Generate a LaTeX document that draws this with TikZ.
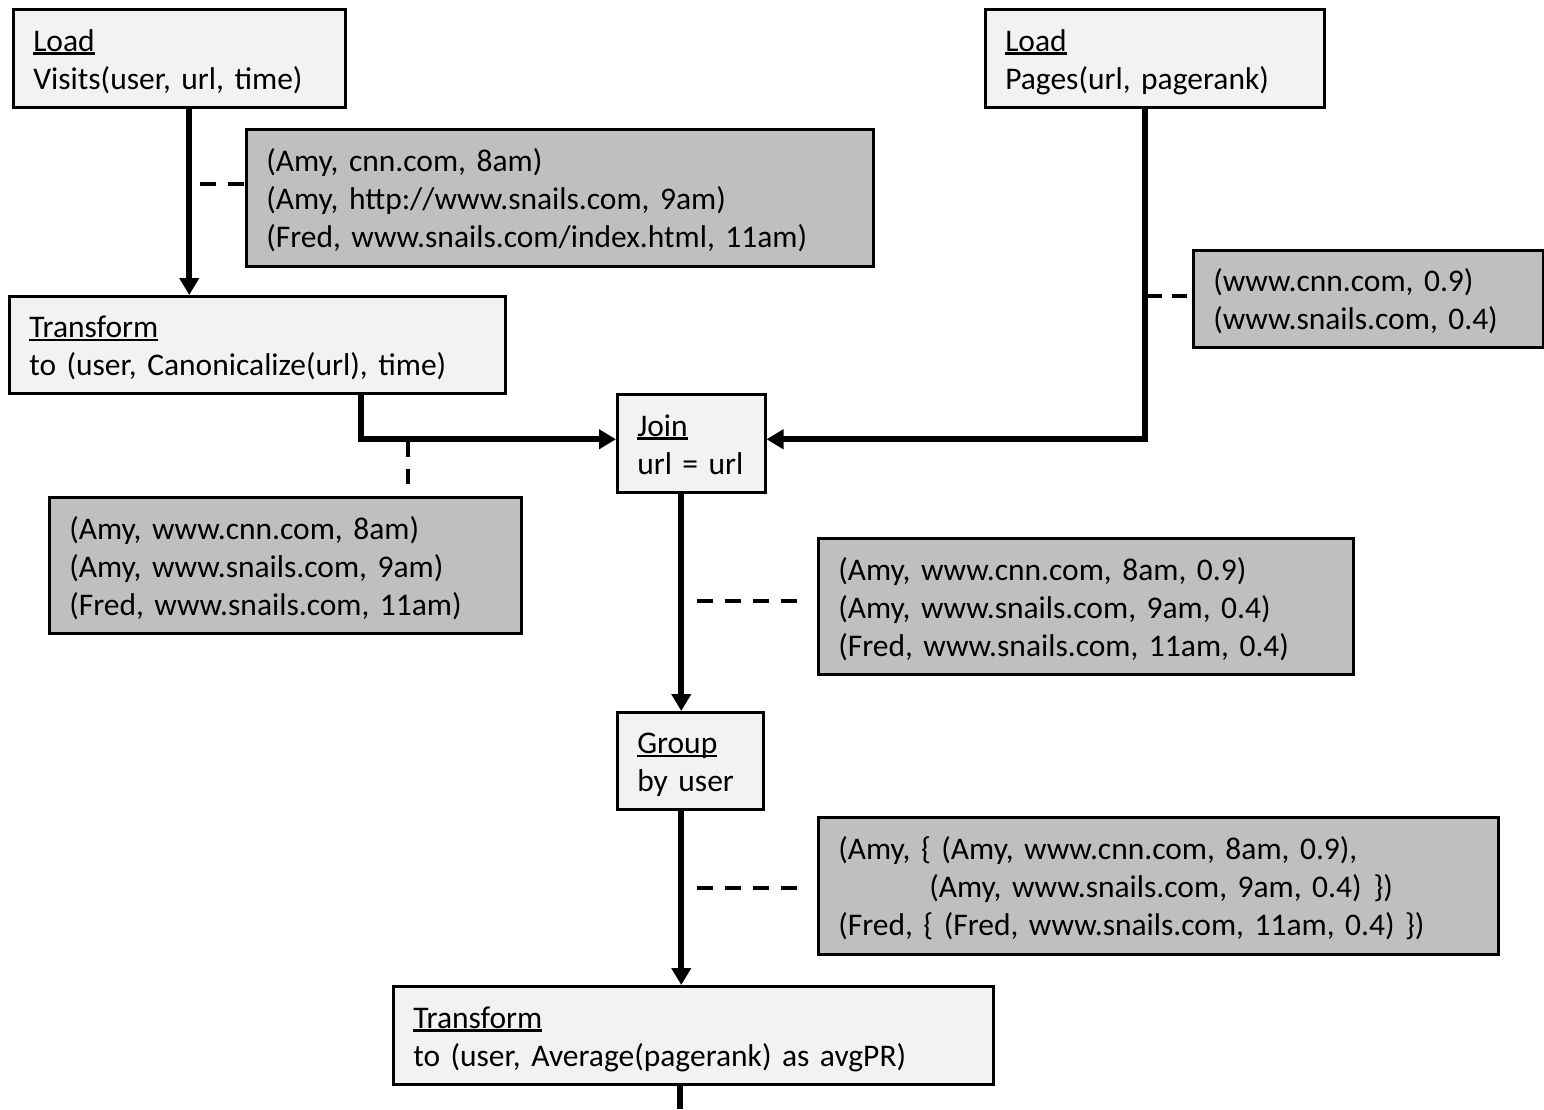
\documentclass[tikz,border=0pt]{standalone}
\usepackage{fontspec}
\setmainfont[WordSpace=0.8]{Carlito}
\frenchspacing
\usetikzlibrary{arrows.meta}

\definecolor{opfill}{HTML}{F2F2F2}
\definecolor{datafill}{HTML}{BFBFBF}

% underline drawn at a fixed depth, through any descenders
\newcommand\ulword[1]{\setbox0\hbox{#1}\rlap{\rule[-3.5pt]{\wd0}{2.3pt}}\box0}

\tikzset{
  boxbase/.style={draw, line width=2.5pt, anchor=north west,
    inner xsep=20pt, inner ysep=0pt, align=left,
    font=\fontsize{31.5}{38}\selectfont, text height=24pt},
  opbox/.style={boxbase, fill=opfill},
  databox/.style={boxbase, fill=datafill},
  twolines/.style={text depth=38pt},
  threelines/.style={text depth=76pt},
  flow/.style={line width=6pt, -{Triangle[width=19pt,length=17pt]}},
  plainflow/.style={line width=6pt},
  note/.style={line width=4pt, dash pattern=on 16pt off 12pt},
}

\begin{document}
\begin{tikzpicture}[x=1pt, y=-1pt]
\useasboundingbox[fill=white] (0,0) rectangle (1544,1109);

% operator boxes
\node[opbox, twolines, minimum width=332pt, minimum height=98pt, text width=292pt]
  (loadv) at (12,8) {\ulword{Load}\\Visits(user, url, time)};
\node[opbox, twolines, minimum width=339pt, minimum height=98pt, text width=299pt]
  (loadp) at (984,8) {\ulword{Load}\\Pages(url, pagerank)};
\node[opbox, twolines, minimum width=496pt, minimum height=97pt, text width=456pt]
  (canon) at (8,295) {\ulword{Transform}\\to (user, Canonicalize(url), time)};
\node[opbox, twolines, minimum width=148pt, minimum height=98pt, text width=108pt]
  (join) at (616,393) {\ulword{Join}\\url = url};
\node[opbox, twolines, minimum width=146pt, minimum height=97pt, text width=106pt]
  (group) at (616,711) {\ulword{Group}\\by user};
\node[opbox, twolines, minimum width=600pt, minimum height=98pt, text width=560pt]
  (avg) at (392,985) {\ulword{Transform}\\to (user, Average(pagerank) as avgPR)};

% sample data boxes
\node[databox, threelines, minimum width=627pt, minimum height=137pt, text width=587pt]
  (dvisits) at (245,128) {(Amy, cnn.com, 8am)\\(Amy, http://www.snails.com, 9am)\\(Fred, www.snails.com/index.html, 11am)};
\node[databox, twolines, minimum width=350pt, minimum height=97pt, text width=310pt]
  (dpages) at (1192,249) {(www.cnn.com, 0.9)\\(www.snails.com, 0.4)};
\node[databox, threelines, minimum width=472pt, minimum height=136pt, text width=432pt]
  (dcanon) at (48,496) {(Amy, www.cnn.com, 8am)\\(Amy, www.snails.com, 9am)\\(Fred, www.snails.com, 11am)};
\node[databox, threelines, minimum width=535pt, minimum height=136pt, text width=495pt]
  (djoin) at (817,537) {(Amy, www.cnn.com, 8am, 0.9)\\(Amy, www.snails.com, 9am, 0.4)\\(Fred, www.snails.com, 11am, 0.4)};
\node[databox, threelines, minimum width=680pt, minimum height=137pt, text width=640pt]
  (dgroup) at (817,816) {(Amy, \{ (Amy, www.cnn.com, 8am, 0.9),\\\hspace*{91pt}(Amy, www.snails.com, 9am, 0.4)\hspace{12pt}\})\\(Fred, \{ (Fred, www.snails.com, 11am, 0.4) \})};

% data flow
\draw[flow] ([xshift=10pt]loadv.south) -- ([xshift=10pt]loadv.south |- canon.north);
\draw[flow] ([xshift=104pt]canon.south) |- ([yshift=4pt]join.west);
\draw[flow] ([xshift=-9.5pt]loadp.south) |- ([yshift=4pt]join.east);
\draw[flow] ([xshift=-10pt]join.south) -- ([xshift=-10pt]join.south |- group.north);
\draw[flow] ([xshift=-9pt]group.south) -- ([xshift=-9pt]group.south |- avg.north);
\coordinate (out) at (680,1109);
\draw[plainflow] (avg.south -| out) -- (out);

% dashed links to the sample data
\coordinate (nvisits) at (200,184);
\draw[note] (nvisits) -- (nvisits -| dvisits.west);
\coordinate (npages) at (1147,296);
\draw[note, dash pattern=on 15pt off 10pt] (npages) -- (npages -| dpages.west);
\coordinate (ncanon) at (408,442);
\draw[note, dash pattern=on 15pt off 12pt, shorten >=10pt] (ncanon) -- (ncanon |- dcanon.north);
\coordinate (njoin) at (697,601);
\draw[note, shorten >=17pt] (njoin) -- (njoin -| djoin.west);
\coordinate (ngroup) at (697,888);
\draw[note, shorten >=17pt] (ngroup) -- (ngroup -| dgroup.west);
\end{tikzpicture}
\end{document}
